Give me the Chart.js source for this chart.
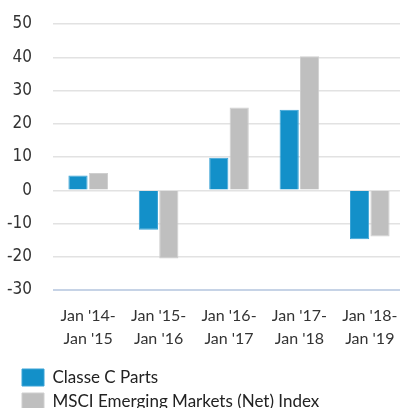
<!DOCTYPE html>
<html>
<head>
<meta charset="utf-8">
<script src="https://cdn.jsdelivr.net/npm/chart.js@4/dist/chart.umd.min.js"></script>
<style>
html,body{margin:0;padding:0;background:#fff;overflow:hidden;width:400px;height:408px;}
#c{position:absolute;left:0;top:0;}
</style>
</head>
<body>
<canvas id="c" width="405" height="420"></canvas>
<script>
const categories = [["Jan '14-","Jan '15"],["Jan '15-","Jan '16"],["Jan '16-","Jan '17"],["Jan '17-","Jan '18"],["Jan '18-","Jan '19"]];
const seriesNames = ["Classe C Parts","MSCI Emerging Markets (Net) Index"];
const classeC = [4.4, -11.9, 9.8, 24.2, -14.7];
const msciEM = [5.2, -20.5, 24.9, 40.3, -13.9];
const yTicks = [50, 40, 30, 20, 10, 0, -10, -20, -30];

const tickFont = {family:"'DejaVu Sans Condensed', 'DejaVu Sans'", size:17};
const textFont = {family:"Lato, 'Noto Sans', sans-serif", size:16, lineHeight:1.44};

const legendShift = {
  id: 'legendShift',
  afterLayout(chart) { if (chart.legend) { chart.legend.left += 15; } }
};

new Chart(document.getElementById('c'), {
  type: 'bar',
  data: {
    labels: categories,
    datasets: [
      {label: seriesNames[0], data: classeC, backgroundColor:'#1390c9', borderColor:'#3aa3d6', borderWidth:1, categoryPercentage:0.58, barPercentage:0.94},
      {label: seriesNames[1], data: msciEM, backgroundColor:'#bfbfbf', borderColor:'#cfcfcf', borderWidth:1, categoryPercentage:0.58, barPercentage:0.94}
    ]
  },
  plugins: [legendShift],
  options: {
    responsive: false,
    animation: false,
    layout: {padding: {left: 0, top: 24, right: 0, bottom: 0}},
    plugins: {
      tooltip: {enabled:false},
      legend: {
        position: 'bottom',
        align: 'start',
        labels: {
          boxWidth: 22, boxHeight: 17, padding: 7, color:'#222',
          font: {family: textFont.family, size: 17}
        }
      }
    },
    scales: {
      x: {
        afterFit: (s) => { s.paddingLeft = 0; s.paddingRight = 0; s.height = 72; },
        grid: {display:false, drawTicks:false},
        border: {display:false},
        ticks: {color:'#333', font: textFont, padding: 14, maxRotation:0, autoSkip:false}
      },
      y: {
        min: -30, max: 50,
        afterFit: (s) => { s.width = 53; s.paddingTop = 0; s.paddingBottom = 0; },
        afterBuildTicks: (s) => { s.ticks = yTicks.map(v => ({value: v})); },
        grid: {
          drawTicks:false,
          color: (ctx) => ctx.tick && ctx.tick.value === -30 ? '#c6d3e6' : '#e2e2e2',
          lineWidth: (ctx) => ctx.tick && ctx.tick.value === -30 ? 2 : 1.5
        },
        border: {display:false},
        ticks: {color:'#333', font: tickFont, padding: 21}
      }
    }
  }
});
</script>
</body>
</html>
